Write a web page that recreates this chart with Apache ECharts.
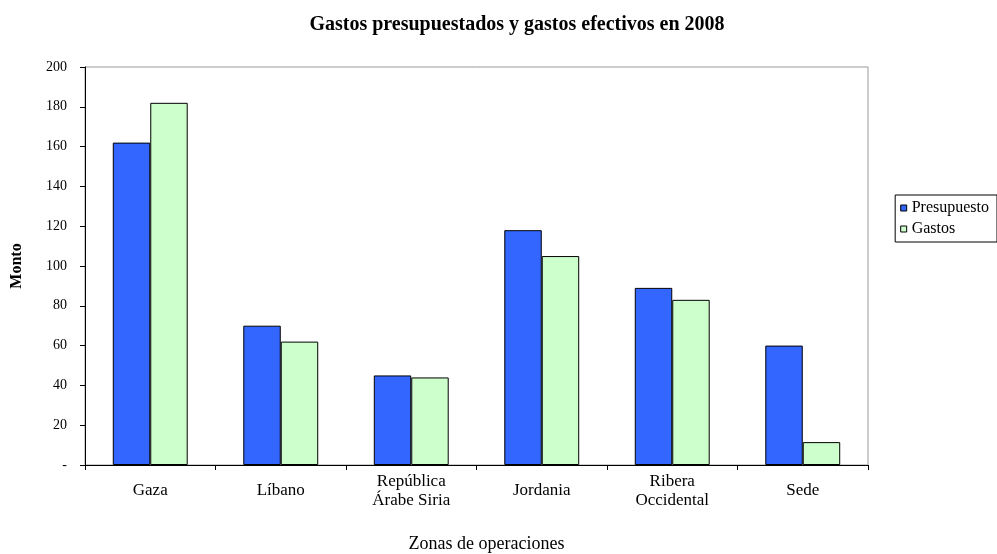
<!DOCTYPE html>
<html>
<head>
<meta charset="utf-8">
<script src="https://cdn.jsdelivr.net/npm/echarts@6/dist/echarts.min.js"></script>
<style>
  html, body { margin: 0; padding: 0; background: #fff; }
  #chart { width: 997px; height: 554px; }
</style>
</head>
<body>
<div id="chart"></div>
<script>
var zonas = ['Gaza', 'Líbano', 'República\nÁrabe Siria', 'Jordania', 'Ribera\nOccidental', 'Sede'];
var presupuesto = [162, 70, 45, 118, 89, 60];
var gastos = [182, 62, 44, 105, 83, 11.5];

var font = 'Liberation Serif';
var myChart = echarts.init(document.getElementById('chart'));

var option = {
    animation: false,
    title: {
        text: 'Gastos presupuestados y gastos efectivos en 2008',
        left: 512,
        textAlign: 'center',
        top: 10,
        textStyle: { fontFamily: font, fontSize: 20, fontWeight: 'bold', color: '#000' }
    },
    legend: {
        orient: 'vertical',
        right: 0,
        top: 195,
        itemWidth: 6,
        itemHeight: 6,
        itemGap: 5,
        padding: [5, 8, 5, 5],
        borderColor: '#000',
        borderWidth: 1,
        borderRadius: 0,
        textStyle: { fontFamily: font, fontSize: 16, color: '#000' },
        data: [
            { name: 'Presupuesto', icon: 'rect', itemStyle: { borderColor: '#000', borderWidth: 1 } },
            { name: 'Gastos', icon: 'rect', itemStyle: { borderColor: '#000', borderWidth: 1 } }
        ]
    },
    grid: {
        left: 85,
        right: 129,
        top: 67,
        bottom: 89,
        outerBoundsMode: 'none',
        containLabel: false,
        show: true,
        borderColor: '#999',
        borderWidth: 1
    },
    xAxis: {
        type: 'category',
        data: zonas,
        name: 'Zonas de operaciones',
        nameLocation: 'middle',
        nameGap: 70,
        nameTextStyle: { fontFamily: font, fontSize: 18, color: '#000', padding: [0, 0, 0, 20] },
        axisLine: { lineStyle: { color: '#000', width: 1 } },
        axisTick: { show: true, length: 5, lineStyle: { color: '#000' } },
        axisLabel: {
            fontFamily: font, fontSize: 17, color: '#000', margin: 26,
            lineHeight: 19, interval: 0, verticalAlign: 'middle'
        }
    },
    yAxis: {
        type: 'value',
        min: 0,
        max: 200,
        interval: 20,
        name: 'Monto',
        nameLocation: 'middle',
        nameGap: 60,
        nameTextStyle: { fontFamily: font, fontSize: 16, fontWeight: 'bold', color: '#000' },
        axisLine: { show: true, lineStyle: { color: '#000', width: 1 } },
        axisTick: { show: true, length: 5, lineStyle: { color: '#000' } },
        splitLine: { show: false },
        axisLabel: {
            fontFamily: font, fontSize: 14, color: '#000', margin: 18,
            formatter: function (v) { return v === 0 ? '-' : v; }
        }
    },
    series: [{
        name: 'Presupuesto',
        type: 'bar',
        data: presupuesto,
        barWidth: '28.7%',
        barGap: '0%',
        itemStyle: { color: '#3366ff', borderColor: '#000', borderWidth: 1 }
    }, {
        name: 'Gastos',
        type: 'bar',
        data: gastos,
        barWidth: '28.7%',
        barGap: '0%',
        itemStyle: { color: '#ccffcc', borderColor: '#000', borderWidth: 1 }
    }]
};

myChart.setOption(option);
</script>
</body>
</html>
